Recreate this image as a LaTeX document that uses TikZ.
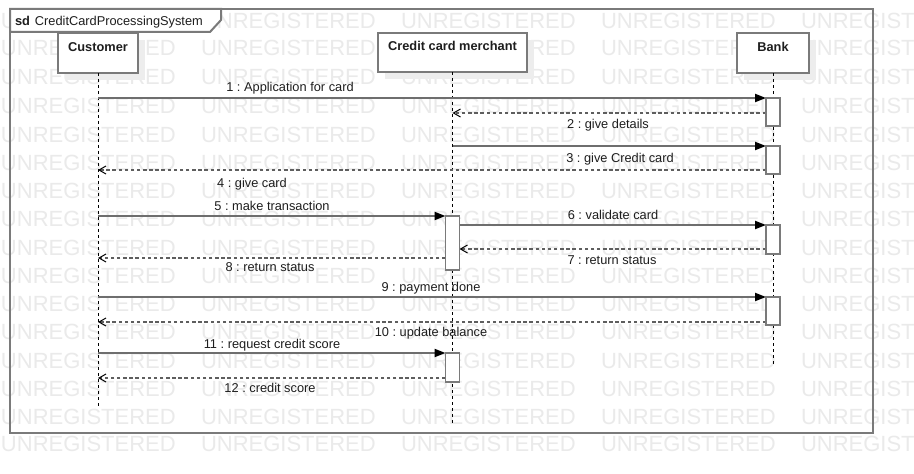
\documentclass[tikz,border=0pt]{standalone}
\usepackage{fontspec}
\setmainfont{Liberation Sans}
\usetikzlibrary{arrows.meta}
\definecolor{wm}{HTML}{EAEAEA}
\definecolor{frm}{HTML}{7A7A7A}
\definecolor{msgc}{HTML}{6E6E6E}
\definecolor{retc}{HTML}{5E5E5E}
\definecolor{shd}{HTML}{EDEDED}
\definecolor{txt}{HTML}{1E1E1E}
\frenchspacing
\begin{document}
\begin{tikzpicture}[x=0.75pt,y=-0.75pt,
  every node/.style={font=\fontsize{9.6pt}{11.5pt}\selectfont, text=txt, inner sep=0pt, outer sep=0pt},
  wmtext/.style={font=\fontsize{16.5pt}{18pt}\selectfont, text=wm, anchor=base west},
  headbox/.style={draw=frm, line width=1.5pt, fill=white, minimum height=30pt, anchor=north west},
  hdrlbl/.style={anchor=base, font=\fontsize{9.6pt}{11.5pt}\selectfont\bfseries},
  act/.style={draw=frm, line width=1.3pt, fill=white, minimum width=10.5pt, anchor=north},
  life/.style={black, line width=0.75pt, dash pattern=on 2.25pt off 2.25pt},
  sync/.style={msgc, line width=1.5pt, -{Triangle[length=8.25pt,width=6pt,color=black]}},
  retn/.style={retc, line width=1.5pt, dash pattern=on 2.6pt off 2pt, -{Straight Barb[length=5.25pt,width=6pt,line width=0.75pt,color=black]}},
  lbl/.style={anchor=base}]
\useasboundingbox (0,0) rectangle (914,474);
\fill[white] (0,0) rectangle (914,474);
% watermark
\begin{scope}
\clip (0,0) rectangle (914,474);
\foreach \r [count=\i] in {29,56,85,114,143,171,199,227,255,283,311,339,368,396,424,451} {
  \foreach \c in {0,...,4} {
    \node[wmtext] (wm-\i-\c) at ({1+200*\c},\r) {UNREGISTERED};
  }
}
\end{scope}
% frame
\draw[frm, line width=1.5pt] (10,9) rectangle (873,433);
\filldraw[draw=frm, fill=white, line width=1.5pt] (10,9) -- (221,9) -- (221,20) -- (210,32) -- (10,32) -- cycle;
\node[anchor=base west] (title) at (15,25.5) {\textbf{sd}\hspace{3.75pt}CreditCardProcessingSystem};
% lifeline heads
\fill[shd] (65,40) rectangle (145,80);
\fill[shd] (385,40) rectangle (534,79);
\fill[shd] (744,40) rectangle (816,80);
\node[headbox, minimum width=60pt] (cust) at (58,33) {};
\node[headbox, minimum width=111.75pt, minimum height=29.25pt] (merch) at (378,33) {};
\node[headbox, minimum width=54pt] (bank) at (737,33) {};
\node[hdrlbl] (custL) at (98,51.5) {Customer};
\node[hdrlbl] (merchL) at (452.5,51) {Credit card merchant};
\node[hdrlbl] (bankL) at (773,51.5) {Bank};
% lifelines
\coordinate (custEnd) at (98,407);
\coordinate (merchEnd) at (452.5,423);
\coordinate (bankEnd) at (773,365);
\draw[life] (cust.south) -- (custEnd);
\draw[life] (merch.south) -- (merchEnd);
\draw[life] (bank.south) -- (bankEnd);
% activations
\node[act, minimum height=21pt] (a1) at (773,98) {};
\node[act, minimum height=21pt] (a2) at (773,146) {};
\node[act, minimum height=40.5pt] (m1) at (452.5,216) {};
\node[act, minimum height=22pt] (a3) at (773,225) {};
\node[act, minimum height=21pt] (a4) at (773,297) {};
\node[act, minimum height=21.75pt] (m2) at (452.5,353) {};
% messages
\coordinate (p1) at (98,98);
\coordinate (p2) at (452.5,113);
\coordinate (p3) at (452.5,146);
\coordinate (p4) at (98,170);
\coordinate (p5) at (98,216);
\coordinate (p7) at (0,249);
\coordinate (p8) at (98,258);
\coordinate (p9) at (98,297);
\coordinate (p10) at (98,322);
\coordinate (p11) at (98,353);
\coordinate (p12) at (98,378);
\draw[sync] (p1) -- (a1.north west);
\draw[retn] (a1.west |- p2) -- (p2);
\draw[sync] (p3) -- (a2.north west);
\draw[retn] (a2.west |- p4) -- (p4);
\draw[sync] (p5) -- (m1.north west);
\draw[sync] (m1.east |- a3.north) -- (a3.north west);
\draw[retn] (a3.west |- p7) -- (m1.east |- p7);
\draw[retn] (m1.west |- p8) -- (p8);
\draw[sync] (p9) -- (a4.north west);
\draw[retn] (a4.west |- p10) -- (p10);
\draw[sync] (p11) -- (m2.north west);
\draw[retn] (m2.west |- p12) -- (p12);
% redraw activations on top of lines
\node[act, minimum height=21pt] (a1b) at (773,98) {};
\node[act, minimum height=21pt] (a2b) at (773,146) {};
\node[act, minimum height=40.5pt] (m1b) at (452.5,216) {};
\node[act, minimum height=22pt] (a3b) at (773,225) {};
\node[act, minimum height=21pt] (a4b) at (773,297) {};
\node[act, minimum height=21.75pt] (m2b) at (452.5,353) {};
% labels
\node[lbl] (l1) at (290,92) {1 : Application for card};
\node[lbl] (l2) at (608,129) {2 : give details};
\node[lbl] (l3) at (620,162.5) {3 : give Credit card};
\node[lbl] (l4) at (252,188) {4 : give card};
\node[lbl] (l5) at (272,211) {5 : make transaction};
\node[lbl] (l6) at (613,219.5) {6 : validate card};
\node[lbl] (l7) at (612,264) {7 : return status};
\node[lbl] (l8) at (270,272) {8 : return status};
\node[lbl] (l9) at (431,291.5) {9 : payment done};
\node[lbl] (l10) at (431,336) {10 : update balance};
\node[lbl] (l11) at (272,348) {11 : request credit score};
\node[lbl] (l12) at (270,392) {12 : credit score};
\end{tikzpicture}
\end{document}
